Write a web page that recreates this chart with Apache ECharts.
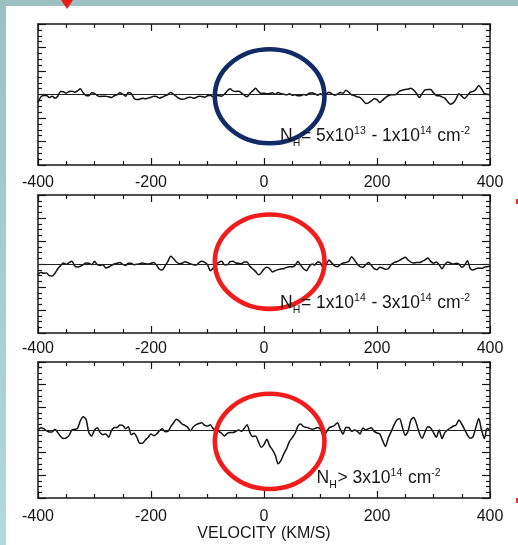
<!DOCTYPE html>
<html>
<head>
<meta charset="utf-8">
<script src="https://cdn.jsdelivr.net/npm/echarts@6/dist/echarts.min.js"></script>
<style>
  html, body { margin: 0; padding: 0; background: #ffffff; }
  #chart { width: 518px; height: 545px; }
</style>
</head>
<body>
<div id="chart"></div>
<script>
// Velocity sampling of the spectra (km/s)
const VEL_MIN = -400;
const VEL_MAX = 400;
const VEL_STEP = 5;

// Axis tick values along velocity
const velocityTicks = [-400, -200, 0, 200, 400];

// Normalized flux, N_H = 5e13 - 1e14 cm^-2
const fluxLow = [
  0.929, 0.980, 0.991, 0.991, 0.974, 0.986, 0.969, 0.986, 1.026, 1.023,
  1.011, 1.026, 1.028, 1.020, 1.031, 1.048, 1.014, 0.991, 0.989, 1.014,
  1.009, 0.991, 0.983, 0.986, 0.986, 0.980, 0.974, 0.989, 0.997, 1.014,
  1.003, 0.986, 1.017, 1.009, 0.969, 0.957, 0.960, 0.969, 0.963, 0.969,
  0.977, 0.986, 0.983, 0.969, 0.977, 0.989, 1.000, 1.020, 1.000, 0.983,
  0.966, 0.960, 0.963, 0.974, 0.977, 0.969, 0.974, 0.986, 0.983, 0.977,
  0.989, 0.994, 0.980, 0.994, 0.989, 0.986, 1.003, 1.031, 1.048, 1.031,
  1.026, 1.028, 1.014, 0.994, 0.980, 1.009, 1.031, 1.054, 1.026, 1.009,
  1.011, 1.006, 1.009, 1.014, 1.003, 1.017, 1.006, 1.003, 0.997, 1.006,
  0.994, 0.997, 0.989, 0.989, 1.000, 0.994, 1.011, 1.014, 1.006, 0.994,
  1.006, 0.991, 1.003, 1.020, 1.006, 0.994, 1.003, 1.017, 1.011, 1.037,
  1.020, 0.997, 0.991, 0.980, 0.974, 0.952, 0.923, 0.929, 0.946, 0.963,
  0.957, 0.932, 0.952, 0.974, 0.989, 0.997, 0.997, 1.006, 1.028, 1.037,
  1.043, 1.045, 1.054, 1.037, 1.009, 0.974, 1.009, 1.040, 1.043, 1.043,
  1.014, 0.991, 0.989, 0.980, 0.969, 0.940, 0.918, 0.929, 0.963, 1.006,
  0.986, 0.966, 0.991, 1.020, 1.026, 1.043, 1.077, 1.048, 1.009, 1.003,
  1.000
];

// Normalized flux, N_H = 1e14 - 3e14 cm^-2
const fluxMid = [
  0.907, 0.928, 0.919, 0.922, 0.899, 0.896, 0.919, 0.959, 0.986, 1.009,
  0.997, 1.012, 1.023, 0.983, 0.974, 0.980, 0.994, 1.009, 1.006, 0.994,
  1.023, 0.994, 0.988, 0.994, 0.965, 0.974, 0.988, 1.000, 1.006, 1.012,
  0.997, 0.988, 1.006, 1.006, 0.994, 0.997, 1.003, 1.009, 1.003, 1.000,
  1.006, 1.014, 0.988, 0.954, 0.948, 0.983, 1.023, 1.067, 1.046, 1.017,
  1.003, 1.006, 1.020, 1.012, 1.000, 0.994, 0.991, 1.012, 1.023, 1.014,
  0.994, 0.942, 0.965, 0.997, 1.014, 1.023, 0.994, 0.994, 1.020, 1.023,
  1.009, 1.006, 1.003, 1.017, 1.017, 0.980, 0.957, 0.936, 0.907, 0.922,
  0.957, 0.971, 0.959, 0.930, 0.942, 0.951, 0.957, 0.959, 0.971, 0.977,
  0.974, 0.988, 1.023, 0.988, 0.959, 0.942, 0.977, 1.000, 0.991, 1.017,
  1.009, 0.965, 0.994, 1.035, 1.009, 0.983, 0.977, 0.994, 1.009, 1.012,
  1.023, 1.064, 1.035, 1.000, 0.977, 0.971, 0.994, 1.012, 0.988, 0.959,
  0.951, 0.971, 0.965, 0.954, 0.959, 0.994, 1.012, 1.020, 1.032, 1.046,
  1.058, 1.035, 1.017, 1.009, 1.012, 1.012, 1.023, 1.035, 1.052, 1.023,
  1.006, 1.017, 0.994, 0.959, 0.994, 1.017, 1.009, 1.000, 1.006, 1.000,
  0.971, 0.988, 1.029, 0.959, 0.948, 0.959, 0.965, 0.962, 0.971, 0.977,
  0.980
];

// Normalized flux, N_H > 3e14 cm^-2
const fluxHigh = [
  1.000, 1.020, 1.012, 0.994, 0.982, 0.982, 1.006, 0.977, 0.942, 0.924,
  0.930, 0.953, 1.000, 1.006, 1.015, 1.082, 1.117, 1.094, 0.977, 0.947,
  1.000, 1.020, 0.977, 0.959, 0.965, 0.936, 0.994, 1.023, 1.023, 1.044,
  1.041, 1.012, 1.029, 0.959, 0.971, 0.936, 0.883, 0.883, 0.912, 0.936,
  0.965, 0.950, 0.965, 0.994, 1.012, 0.985, 0.988, 1.029, 1.064, 1.094,
  1.079, 1.053, 1.041, 1.023, 0.994, 1.029, 1.047, 1.058, 1.064, 1.041,
  1.035, 1.047, 1.012, 1.000, 0.988, 0.971, 0.947, 0.971, 0.977, 0.977,
  0.988, 1.000, 0.988, 1.015, 1.047, 0.977, 0.942, 0.947, 0.898, 0.848,
  0.871, 0.918, 0.860, 0.825, 0.778, 0.702, 0.731, 0.789, 0.836, 0.898,
  0.933, 0.971, 1.035, 1.053, 1.029, 1.023, 1.015, 1.006, 1.012, 1.023,
  1.006, 0.947, 0.977, 1.018, 1.029, 1.041, 1.064, 1.006, 0.965, 1.023,
  1.023, 0.988, 1.000, 0.988, 0.965, 1.018, 1.000, 1.012, 1.020, 0.988,
  0.974, 0.965, 0.906, 0.854, 0.930, 0.985, 1.041, 1.088, 1.099, 1.023,
  0.953, 0.988, 1.088, 1.111, 1.053, 0.971, 0.927, 0.982, 1.029, 1.018,
  0.977, 0.936, 1.000, 0.924, 0.977, 1.000, 1.018, 1.035, 1.044, 1.088,
  1.053, 1.006, 0.956, 0.927, 0.942, 1.023, 1.102, 1.000, 0.924, 1.015,
  1.000
];

// Continuum level drawn across each panel
const continuumLevel = 1.0;

// Column-density captions, split into normal / subscript / superscript runs
const captionLow  = [['N', 'm'], ['H', 'sub'], ['= 5x10', 'm'], ['13', 'sup'], [' - 1x10', 'm'], ['14', 'sup'], [' cm', 'm'], ['-2', 'sup']];
const captionMid  = [['N', 'm'], ['H', 'sub'], ['= 1x10', 'm'], ['14', 'sup'], [' - 3x10', 'm'], ['14', 'sup'], [' cm', 'm'], ['-2', 'sup']];
const captionHigh = [['N', 'm'], ['H', 'sub'], ['> 3x10', 'm'], ['14', 'sup'], [' cm', 'm'], ['-2', 'sup']];

// Highlight rings around the line centre: [velocity, flux] centre and [dv, dflux] half-axes
const ringCentres = [[10, 0.985], [10, 1.02], [10, 0.90]];
const ringHalfAxes = [[97, 0.40], [97, 0.41], [97, 0.42]];
const ringColours = ['#112b66', '#f21c1c', '#f21c1c'];

// ---------------------------------------------------------------------------
const FONT = '"Liberation Sans", Arial, Helvetica, sans-serif';
const INK = '#161616';

const velocities = [];
for (let v = VEL_MIN; v <= VEL_MAX; v += VEL_STEP) velocities.push(v);
const toPairs = (flux) => velocities.map((v, i) => [v, flux[i]]);

const panels = [
  { top: 24,  height: 141, flux: fluxLow,  caption: captionLow,  capX: 280,   capBase: 142,   labelMargin: 10 },
  { top: 195, height: 138, flux: fluxMid,  caption: captionMid,  capX: 280,   capBase: 309.5, labelMargin: 8 },
  { top: 362, height: 136, flux: fluxHigh, caption: captionHigh, capX: 316.5, capBase: 484,   labelMargin: 11 }
];

const frameLine = { color: INK, width: 1.5 };
const tickLine = { color: INK, width: 1.2 };

const grid = [], xAxis = [], yAxis = [], series = [];

panels.forEach((p, i) => {
  grid.push({ left: 38, right: 28, top: p.top, height: p.height });
  const xBase = {
    gridIndex: i, type: 'value', min: VEL_MIN, max: VEL_MAX, interval: 200,
    axisLine: { show: true, onZero: false, lineStyle: frameLine },
    axisTick: { show: true, inside: true, length: 7, lineStyle: tickLine },
    minorTick: { show: true, splitNumber: 4, length: 4, lineStyle: tickLine },
    splitLine: { show: false }
  };
  xAxis.push(Object.assign({}, xBase, {
    position: 'bottom',
    axisLabel: {
      show: true, margin: p.labelMargin, color: INK, fontSize: 16, fontFamily: FONT,
      formatter: (v) => (velocityTicks.indexOf(v) >= 0 ? String(v) : '')
    },
    name: i === 2 ? 'VELOCITY (KM/S)' : '',
    nameLocation: 'middle',
    nameGap: 27,
    nameTextStyle: { fontSize: 16, fontFamily: FONT, color: INK }
  }));
  xAxis.push(Object.assign({}, xBase, { position: 'top', axisLabel: { show: false } }));

  const yBase = {
    gridIndex: i, type: 'value', min: 0.4, max: 1.6, interval: 0.2,
    axisLine: { show: true, onZero: false, lineStyle: frameLine },
    axisTick: { show: true, inside: true, length: 8, lineStyle: tickLine },
    minorTick: { show: true, splitNumber: 4, length: 4, lineStyle: tickLine },
    splitLine: { show: false },
    axisLabel: { show: false }
  };
  yAxis.push(Object.assign({}, yBase, { position: 'left' }));
  yAxis.push(Object.assign({}, yBase, { position: 'right' }));

  series.push({
    type: 'line',
    xAxisIndex: 2 * i,
    yAxisIndex: 2 * i,
    data: toPairs(p.flux),
    showSymbol: false,
    symbol: 'none',
    smooth: 0.25,
    lineStyle: { color: '#111', width: 1.5 },
    z: 3,
    markLine: {
      silent: true,
      symbol: 'none',
      label: { show: false },
      lineStyle: { color: '#222', width: 1.1, type: 'solid' },
      data: [{ yAxis: continuumLevel }],
      animation: false
    }
  });
});

const chart = echarts.init(document.getElementById('chart'), null, { renderer: 'canvas' });
chart.setOption({
  animation: false,
  backgroundColor: '#ffffff',
  grid, xAxis, yAxis, series
});

// Frame decorations, highlight rings and captions
const measureCtx = document.createElement('canvas').getContext('2d');
const textWidth = (t, size) => { measureCtx.font = size + 'px ' + FONT; return measureCtx.measureText(t).width; };

const graphics = [
  // slide border
  { type: 'rect', shape: { x: 0, y: 0, width: 518, height: 6 }, style: { fill: '#9cbfc2' }, z: 10, silent: true },
  { type: 'rect', shape: { x: 0, y: 0, width: 6, height: 545 },
    style: { fill: new echarts.graphic.LinearGradient(0, 0, 0, 1, [{ offset: 0, color: '#9cbfc2' }, { offset: 1, color: '#b1dadd' }]) },
    z: 10, silent: true },
  // pointer arrow tip and small red marks at the right edge
  { type: 'polygon', shape: { points: [[61, 0], [73, 0], [67, 9]] }, style: { fill: '#ef1a1a' }, z: 11, silent: true },
  { type: 'rect', shape: { x: 516, y: 199, width: 2, height: 5 }, style: { fill: '#ef2a2a' }, z: 11, silent: true },
  { type: 'rect', shape: { x: 516, y: 498, width: 2, height: 5 }, style: { fill: '#ef2a2a' }, z: 11, silent: true }
];

ringCentres.forEach((c, i) => {
  const centre = chart.convertToPixel({ xAxisIndex: 2 * i, yAxisIndex: 2 * i }, c);
  const edge = chart.convertToPixel({ xAxisIndex: 2 * i, yAxisIndex: 2 * i }, [c[0] + ringHalfAxes[i][0], c[1] + ringHalfAxes[i][1]]);
  graphics.push({
    type: 'ellipse',
    shape: { cx: centre[0], cy: centre[1], rx: Math.abs(edge[0] - centre[0]), ry: Math.abs(edge[1] - centre[1]) },
    style: { fill: 'none', stroke: ringColours[i], lineWidth: 4.6 },
    z: 20, silent: true
  });
});

const MAIN = 17.5, SMALL = 10.5;
panels.forEach((p) => {
  let x = p.capX;
  p.caption.forEach(([t, role]) => {
    const size = role === 'm' ? MAIN : SMALL;
    const base = role === 'sup' ? p.capBase - 7.5 : role === 'sub' ? p.capBase + 4.5 : p.capBase;
    graphics.push({
      type: 'text', x: x, y: base - 0.3465 * size, z: 25, silent: true,
      style: { text: t, font: size + 'px ' + FONT, fill: INK, align: 'left', verticalAlign: 'middle' }
    });
    x += textWidth(t, size) + (role === 'm' ? 0 : 0.8);
  });
});

chart.setOption({ graphic: graphics });
</script>
</body>
</html>
